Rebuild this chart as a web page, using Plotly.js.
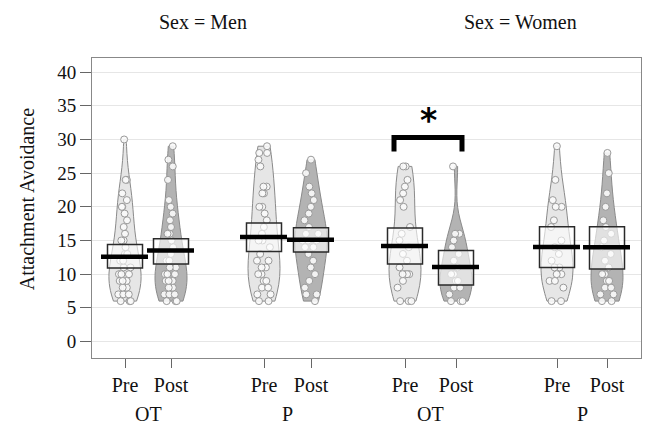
<!DOCTYPE html>
<html>
<head>
<meta charset="utf-8">
<script src="https://cdn.plot.ly/plotly-3.0.1.min.js"></script>
<style>html,body{margin:0;padding:0;background:#fff;}#chart{width:646px;height:427px;}</style>
</head>
<body>
<div id="chart"></div>
<script>
// ---- data ----
var sexes = ["Men", "Women"];
var groups = ["OT", "P"];
var times = ["Pre", "Post"];

// individual scores (Attachment Avoidance)
var menOTPre   = [30,24,24,22,21,20,20,19,18,17,16,15,15,14,13,13,12,12,11,11,10,10,10,9,9,9,8,8,8,7,7,7,6,6,6];
var menOTPost  = [29,27,26,24,21,20,19,18,17,16,16,15,14,13,12,12,11,11,10,10,10,9,9,9,8,8,8,7,7,7,6,6,6];
var menPPre    = [29,28,28,27,26,23,23,22,22,20,20,19,18,17,16,15,15,14,13,12,12,11,11,10,10,9,9,8,8,7,7,6,6];
var menPPost   = [27,25,23,22,21,20,19,18,17,16,16,15,15,15,14,14,13,12,11,10,9,8,7,7,6];
var womOTPre   = [26,26,24,23,22,21,20,17,16,15,14,13,12,11,10,10,10,10,9,8,6,6,6];
var womOTPost  = [26,16,16,15,14,13,12,11,10,10,9,9,8,8,7,6,6,6];
var womPPre    = [29,24,21,20,20,18,17,15,14,13,12,11,11,10,10,9,9,8,6,6];
var womPPost   = [28,25,22,20,18,17,16,15,14,13,12,11,10,10,9,9,8,8,7,7,6,6];

// means and interval bounds shown as boxes (order: Men OT Pre, Men OT Post, Men P Pre, Men P Post, Women OT Pre, ...)
var means = [12.6, 13.5, 15.5, 15.1, 14.2, 11.05, 14.05, 14.0];
var lower = [10.9, 11.5, 13.35, 13.3, 11.5, 8.4, 11.0, 10.75];
var upper = [14.4, 15.25, 17.6, 16.9, 16.85, 13.5, 17.05, 17.05];

var yTicks = [0,5,10,15,20,25,30,35,40];

// ---- layout helpers (positions, styling) ----
var series = [menOTPre, menOTPost, menPPre, menPPost, womOTPre, womOTPost, womPPre, womPPost];
var pos = [125, 171, 264, 311, 405, 456, 557, 607];
var serif = "Liberation Serif, Times New Roman, serif";

var traces = [];
var shapes = [];
series.forEach(function (vals, i) {
  var isPre = (i % 2 === 0);
  traces.push({
    type: "violin",
    x: vals.map(function () { return pos[i]; }),
    y: vals,
    width: 32,
    scalemode: "width",
    spanmode: "hard",
    fillcolor: isPre ? "#e6e6e6" : "#b3b3b3",
    line: {color: "#8a8a8a", width: 1},
    points: "all",
    pointpos: 0,
    jitter: 0.55,
    marker: {size: 7, color: "rgba(250,250,250,0.9)", line: {color: "#9a9a9a", width: 1}},
    box: {visible: false},
    meanline: {visible: false},
    showlegend: false,
    hoverinfo: "y"
  });
  shapes.push({type: "rect", xref: "x", yref: "y", layer: "above",
    x0: pos[i] - 17.5, x1: pos[i] + 17.5, y0: lower[i], y1: upper[i],
    fillcolor: "rgba(255,255,255,0.6)", line: {color: "#2a2a2a", width: 1.5}});
  shapes.push({type: "line", xref: "x", yref: "y", layer: "above",
    x0: pos[i] - 24, x1: pos[i] + 23, y0: means[i], y1: means[i],
    line: {color: "#000", width: 4.5}});
});

// significance bracket between Women OT Pre and Post
shapes.push({type: "path", xref: "x", yref: "y", layer: "above",
  path: "M " + (pos[4] - 11) + " 28.2 L " + (pos[4] - 11) + " 30.3 L " + (pos[5] + 6) + " 30.3 L " + (pos[5] + 6) + " 28.2",
  line: {color: "#000", width: 5}});

var annotations = [];
// group labels
for (var g = 0; g < 4; g++) {
  annotations.push({xref: "x", yref: "paper", x: (pos[2*g] + pos[2*g+1]) / 2, y: -0.185,
    yanchor: "middle", showarrow: false, text: groups[g % 2],
    font: {family: serif, size: 20, color: "#111"}});
}
// facet titles
annotations.push({xref: "x", yref: "paper", x: 203, y: 1.12, yanchor: "middle", showarrow: false,
  text: "Sex = " + sexes[0], font: {family: serif, size: 20, color: "#111"}});
annotations.push({xref: "x", yref: "paper", x: 520, y: 1.12, yanchor: "middle", showarrow: false,
  text: "Sex = " + sexes[1], font: {family: serif, size: 20, color: "#111"}});
// asterisk
annotations.push({xref: "x", yref: "y", x: (pos[4] + pos[5]) / 2 - 2, y: 32.8, yanchor: "middle", showarrow: false,
  text: "<b>*</b>", font: {family: "DejaVu Sans, sans-serif", size: 33, color: "#000"}});
// y-axis title
annotations.push({xref: "paper", yref: "paper", x: -0.118, y: 0.53, xanchor: "center", yanchor: "middle",
  textangle: -90, showarrow: false, text: "Attachment Avoidance",
  font: {family: serif, size: 20, color: "#111"}});

var tickvals = pos.slice();
var ticktext = pos.map(function (p, i) { return times[i % 2]; });

var layout = {
  width: 646, height: 427,
  margin: {l: 92, r: 5, t: 58, b: 69},
  paper_bgcolor: "#fff", plot_bgcolor: "#fff",
  violinmode: "overlay",
  xaxis: {
    range: [92, 641], tickvals: tickvals, ticktext: ticktext,
    ticks: "outside", ticklen: 9, tickcolor: "#666", tickwidth: 1,
    showgrid: false, zeroline: false,
    showline: true, linecolor: "#888", linewidth: 1, mirror: true,
    tickfont: {family: serif, size: 20, color: "#111"}
  },
  yaxis: {
    range: [-2.45, 42.1], tickvals: yTicks,
    ticks: "outside", ticklen: 11, tickcolor: "#666", tickwidth: 1,
    showgrid: true, gridcolor: "#e6e6e6", gridwidth: 1, zeroline: false,
    showline: true, linecolor: "#888", linewidth: 1, mirror: true,
    tickfont: {family: serif, size: 19, color: "#111"}
  },
  shapes: shapes,
  annotations: annotations
};

Plotly.newPlot("chart", traces, layout, {displayModeBar: false, staticPlot: true});
</script>
</body>
</html>
